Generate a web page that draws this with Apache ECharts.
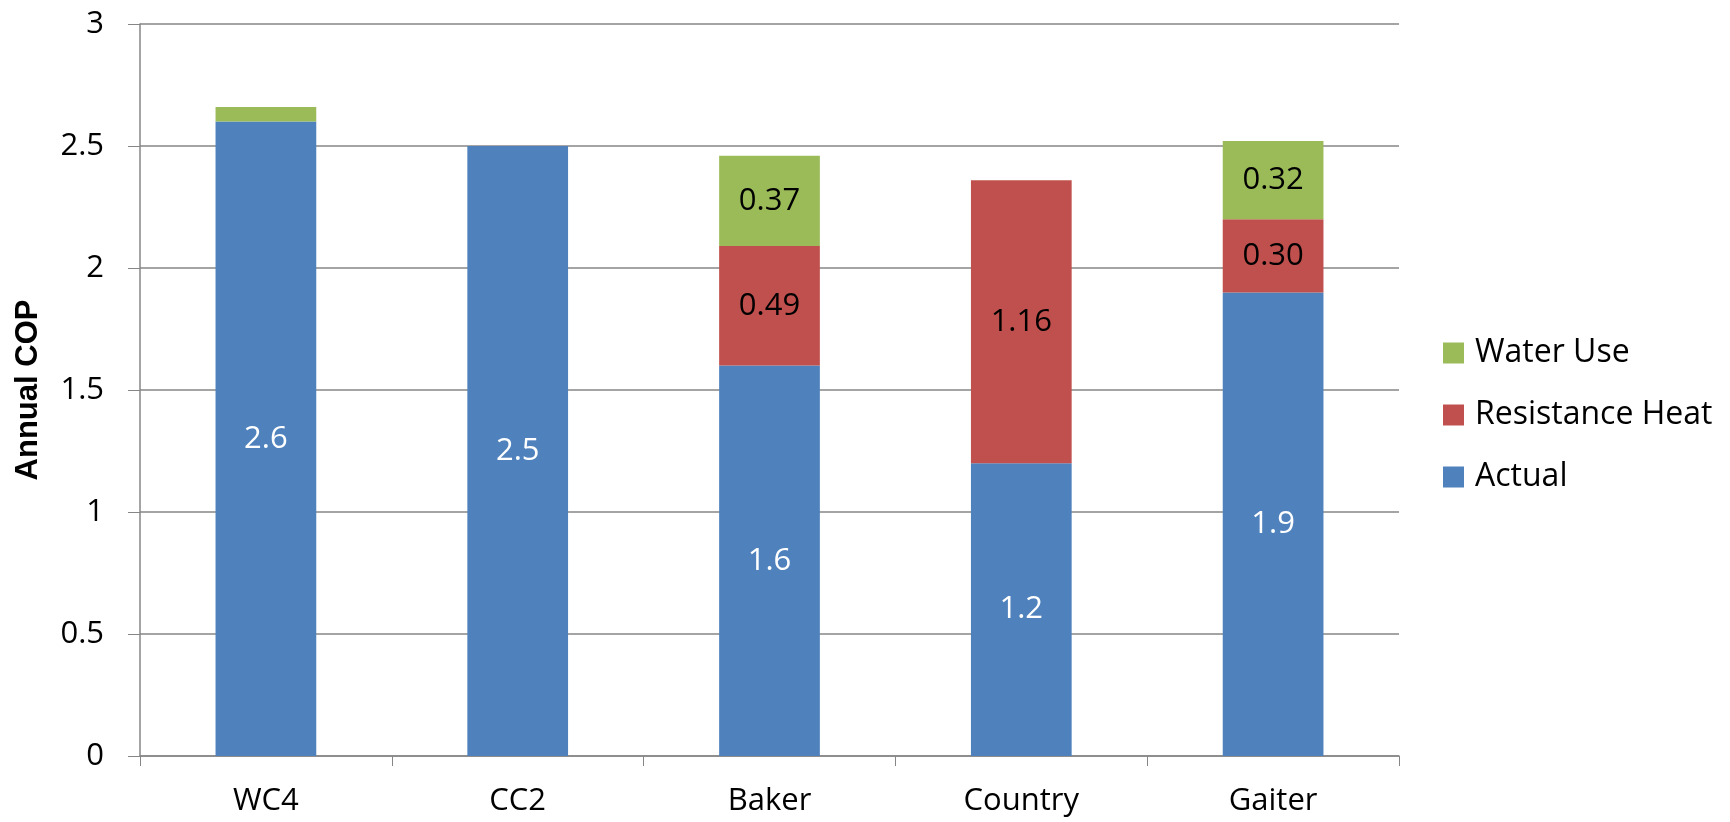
<!DOCTYPE html>
<html>
<head>
<meta charset="utf-8">
<script src="https://cdn.jsdelivr.net/npm/echarts@6/dist/echarts.min.js"></script>
<style>
  html, body { margin: 0; padding: 0; background: #fff; }
  #chart { width: 1730px; height: 822px; }
</style>
</head>
<body>
<div id="chart"></div>
<script>
// Annual COP per site, split into stacked components
const categories = ['WC4', 'CC2', 'Baker', 'Country', 'Gaiter'];
const actual = [2.6, 2.5, 1.6, 1.2, 1.9];
const resistanceHeat = [0, 0, 0.49, 1.16, 0.30];
const waterUse = [0.06, 0, 0.37, 0, 0.32];
const yTicks = [0, 0.5, 1, 1.5, 2, 2.5, 3];

const FONT = '"Open Sans", "Liberation Sans", sans-serif';

function labelOf(decimals, color) {
  return {
    show: true,
    position: 'inside',
    color: color,
    fontFamily: FONT,
    fontSize: 31,
    formatter: p => (p.value >= 0.1 ? (decimals ? p.value.toFixed(decimals) : String(p.value)) : '')
  };
}

const chart = echarts.init(document.getElementById('chart'));
chart.setOption({
  animation: false,
  grid: { left: 140, right: 331, top: 24, bottom: 66, outerBoundsMode: 'none', containLabel: false },
  legend: {
    data: ['Water Use', 'Resistance Heat', 'Actual'],
    orient: 'vertical',
    left: 1438,
    top: 332,
    itemWidth: 21,
    itemHeight: 21,
    itemGap: 30,
    icon: 'rect',
    textStyle: { fontFamily: FONT, fontSize: 32, color: '#000', padding: [0, 0, 0, 6] }
  },
  xAxis: {
    type: 'category',
    data: categories,
    axisLine: { lineStyle: { color: '#868686', width: 1.5 } },
    axisTick: { show: true, length: 10, lineStyle: { color: '#868686' } },
    axisLabel: { fontFamily: FONT, fontSize: 31, color: '#000', margin: 30 }
  },
  yAxis: {
    type: 'value',
    min: yTicks[0],
    max: yTicks[yTicks.length - 1],
    interval: 0.5,
    name: 'Annual COP',
    nameLocation: 'middle',
    nameGap: 96,
    nameTextStyle: { fontFamily: '"Liberation Sans Narrow", "Liberation Sans", sans-serif', fontSize: 31, fontWeight: 'bold', color: '#000' },
    axisLine: { show: true, lineStyle: { color: '#868686', width: 1.5 } },
    axisTick: { show: true, length: 12, lineStyle: { color: '#868686' } },
    axisLabel: { fontFamily: FONT, fontSize: 31, color: '#000', margin: 36 },
    splitLine: { lineStyle: { color: '#868686', width: 1.5 } }
  },
  series: [
    {
      name: 'Actual', type: 'bar', stack: 'cop', data: actual, barWidth: '40%',
      itemStyle: { color: '#4F81BD' }, label: labelOf(0, '#fff')
    },
    {
      name: 'Resistance Heat', type: 'bar', stack: 'cop', data: resistanceHeat,
      itemStyle: { color: '#C0504D' }, label: labelOf(2, '#000')
    },
    {
      name: 'Water Use', type: 'bar', stack: 'cop', data: waterUse,
      itemStyle: { color: '#9BBB59' }, label: labelOf(2, '#000')
    }
  ]
});
</script>
</body>
</html>
